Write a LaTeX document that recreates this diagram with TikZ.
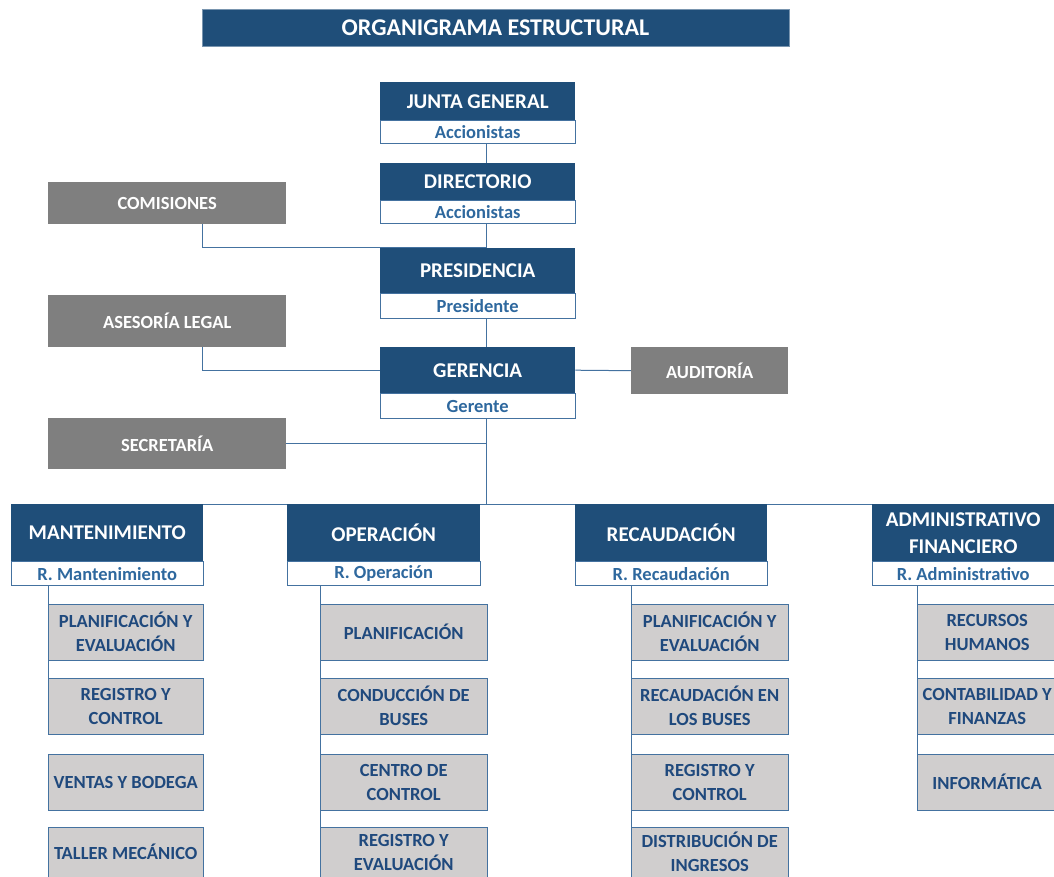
\documentclass[tikz,border=0pt]{standalone}
\usepackage{fontspec}
\setmainfont{Carlito}
\usetikzlibrary{positioning, backgrounds}
\definecolor{orgblue}{RGB}{31,78,121}
\definecolor{orgmid}{RGB}{46,104,158}
\definecolor{orgline}{RGB}{68,114,160}
\definecolor{orggrey}{RGB}{127,127,127}
\definecolor{orglight}{RGB}{208,206,206}
\definecolor{orgtext}{RGB}{31,73,125}
\tikzset{
    titlebar/.style={rectangle, fill=orgblue, draw=orgblue!60, text=white, font=\fontsize{24}{26}\selectfont\bfseries, minimum width=587pt, minimum height=37pt, inner sep=0pt},
    mainhead/.style={rectangle, fill=orgblue, text=white, font=\fontsize{21}{23}\selectfont\bfseries, minimum width=195pt, inner sep=0pt, align=center},
    mainsub/.style={rectangle, fill=white, draw=orgline, text=orgmid, font=\fontsize{18.5}{20}\selectfont\bfseries, minimum width=195pt, inner sep=0pt},
    depthead/.style={rectangle, fill=orgblue, text=white, font=\fontsize{21}{27}\selectfont\bfseries, minimum height=57pt, inner sep=0pt, align=center},
    deptsub/.style={rectangle, fill=white, draw=orgline, text=orgmid, font=\fontsize{18.5}{20}\selectfont\bfseries, minimum height=24pt, inner sep=0pt},
    side/.style={rectangle, fill=orggrey, text=white, font=\fontsize{18.5}{20}\selectfont\bfseries, minimum width=238pt, inner sep=0pt},
    unit/.style={rectangle, fill=orglight, draw=orgline, text=orgtext, font=\fontsize{18.5}{24}\selectfont\bfseries, minimum height=56pt, inner sep=0pt, align=center, anchor=north west},
    lastunit/.style={unit, minimum height=50pt},
    link/.style={draw=orgline, line width=1pt}
}
\begin{document}
\begin{tikzpicture}[x=1pt, y=-1pt]
    \useasboundingbox (0,0) rectangle (1054,877);
    \clip (0,0) rectangle (1054,877);
    \coordinate (spine) at (486,0);
    \coordinate (drop) at (202,0);

    \node[titlebar] (title) at (495.5,27.5) {ORGANIGRAMA ESTRUCTURAL};

    % central column
    \node[mainhead, minimum height=38pt, anchor=north west] (junta) at (380,82) {JUNTA GENERAL};
    \node[mainsub, minimum height=23pt, below=0pt of junta] (juntasub) {Accionistas};
    \node[mainhead, minimum height=37pt, anchor=north west] (dir) at (380,163) {DIRECTORIO};
    \node[mainsub, minimum height=23pt, below=0pt of dir] (dirsub) {Accionistas};
    \node[mainhead, minimum height=45pt, anchor=north west] (pres) at (380,248) {PRESIDENCIA};
    \node[mainsub, minimum height=25pt, below=0pt of pres] (pressub) {Presidente};
    \node[mainhead, minimum height=46pt, anchor=north west] (ger) at (380,347) {GERENCIA};
    \node[mainsub, minimum height=25pt, below=0pt of ger] (gersub) {Gerente};

    % staff units
    \node[side, minimum height=42pt, anchor=north west] (comis) at (48,182) {COMISIONES};
    \node[side, minimum height=52pt, anchor=north west] (asesor) at (48,295) {ASESORÍA LEGAL};
    \node[side, minimum height=51pt, anchor=north west] (secre) at (48,418) {SECRETARÍA};
    \node[side, minimum width=157pt, minimum height=47pt, anchor=north west] (audit) at (631,347) {AUDITORÍA};

    % departments
    \node[depthead, minimum width=192pt, anchor=north west] (mant) at (11,504) {MANTENIMIENTO};
    \node[deptsub, minimum width=192pt, below=0pt of mant] (mantsub) {R. Mantenimiento};
    \node[depthead, minimum width=193pt, anchor=north west] (oper) at (287,504) {OPERACIÓN};
    \node[deptsub, minimum width=193pt, below=0pt of oper] (opersub) {R. Operación};
    \node[depthead, minimum width=192pt, anchor=north west] (recau) at (575,504) {RECAUDACIÓN};
    \node[deptsub, minimum width=192pt, below=0pt of recau] (recausub) {R. Recaudación};
    \node[depthead, minimum width=182pt, anchor=north west] (admin) at (872,504) {ADMINISTRATIVO\\FINANCIERO};
    \node[deptsub, minimum width=182pt, below=0pt of admin] (adminsub) {R. Administrativo};

    % units
    \node[unit, minimum width=155pt] (mant1) at (48,604) {PLANIFICACIÓN Y\\EVALUACIÓN};
    \node[unit, minimum width=155pt] (mant2) at (48,678) {REGISTRO Y\\CONTROL};
    \node[unit, minimum width=155pt] (mant3) at (48,754) {VENTAS Y BODEGA};
    \node[lastunit, minimum width=155pt] (mant4) at (48,827) {TALLER MECÁNICO};
    \node[unit, minimum width=167pt] (oper1) at (320,604) {PLANIFICACIÓN};
    \node[unit, minimum width=167pt] (oper2) at (320,678) {CONDUCCIÓN DE\\BUSES};
    \node[unit, minimum width=167pt] (oper3) at (320,754) {CENTRO DE\\CONTROL};
    \node[lastunit, minimum width=167pt] (oper4) at (320,827) {REGISTRO Y\\EVALUACIÓN};
    \node[unit, minimum width=157pt] (recau1) at (631,604) {PLANIFICACIÓN Y\\EVALUACIÓN};
    \node[unit, minimum width=157pt] (recau2) at (631,678) {RECAUDACIÓN EN\\LOS BUSES};
    \node[unit, minimum width=157pt] (recau3) at (631,754) {REGISTRO Y\\CONTROL};
    \node[lastunit, minimum width=157pt] (recau4) at (631,827) {DISTRIBUCIÓN DE\\INGRESOS};
    \node[unit, minimum width=140pt] (admin1) at (917,604) {RECURSOS\\HUMANOS};
    \node[unit, minimum width=140pt] (admin2) at (917,678) {CONTABILIDAD Y\\FINANZAS};
    \node[unit, minimum width=140pt] (admin3) at (917,754) {INFORMÁTICA};

    % connectors
    \begin{scope}[on background layer]
    \draw[link] (juntasub.south -| spine) -- (dir.north -| spine);
    \draw[link] (dirsub.south -| spine) -- (pres.north -| spine);
    \draw[link] (pressub.south -| spine) -- (ger.north -| spine);
    \draw[link] (gersub.south -| spine) -- (mant.north -| spine);
    \draw[link] (mant.north west) -- (admin.north east);
    \draw[link] (comis.south -| drop) |- (pres.north -| spine);
    \draw[link] (asesor.south -| drop) |- (ger.west);
    \draw[link] (secre.east) -- (secre.east -| spine);
    \draw[link] (ger.east) -- (audit.west);
    \draw[link] (mantsub.south -| mant1.west) -- (mant2.north west);
    \draw[link] (opersub.south -| oper1.west) -- (oper4.south west);
    \draw[link] (recausub.south -| recau1.west) -- (recau4.north west);
    \draw[link] (adminsub.south -| admin1.west) -- (admin3.north west);
    \end{scope}
\end{tikzpicture}
\end{document}
